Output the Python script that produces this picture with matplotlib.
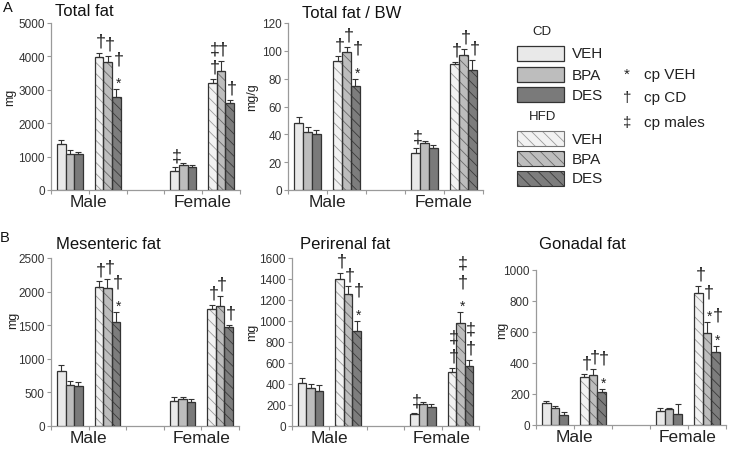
import matplotlib
matplotlib.use("Agg")
import matplotlib.pyplot as plt
from matplotlib.patches import Rectangle

plt.rcParams['font.family'] = ['Liberation Sans', 'DejaVu Sans']
plt.rcParams['hatch.linewidth'] = 0.6

W, H = 729, 452

# ---------------- data ----------------
# order: Male CD (VEH,BPA,DES), Male HFD (VEH,BPA,DES), Female CD (...), Female HFD (...)
groups = ["Male CD", "Male HFD", "Female CD", "Female HFD"]
treatments = ["VEH", "BPA", "DES"]
sex_labels = ["Male", "Female"]

total_fat_mean = [1370, 1090, 1070, 3970, 3820, 2775, 580, 755, 680, 3205, 3575, 2595]
total_fat_sem = [130, 110, 80, 130, 200, 245, 95, 40, 65, 115, 300, 105]
total_fat_sig = ["", "", "", "†", "†", "*†", "‡", "", "", "†‡", "†", "†"]

bw_mean = [48.5, 41.4, 40.2, 92.9, 99.3, 74.5, 26.3, 33.5, 30.2, 90.5, 97.0, 86.0]
bw_sem = [3.7, 3.6, 2.9, 3.1, 3.8, 5.3, 3.6, 1.5, 2.1, 1.7, 4.3, 7.4]
bw_sig = ["", "", "", "†", "†", "*†", "‡", "", "", "†", "†", "†"]

mes_mean = [820, 605, 600, 2067, 2050, 1555, 373, 405, 360, 1740, 1780, 1470]
mes_sem = [90, 65, 60, 85, 140, 140, 60, 25, 35, 60, 150, 35]
mes_sig = ["", "", "", "†", "†", "*†", "", "", "", "†", "†", "†"]

per_mean = [410, 360, 338, 1402, 1257, 908, 112, 214, 180, 510, 982, 574]
per_sem = [50, 38, 50, 55, 72, 95, 15, 19, 25, 47, 100, 55]
per_sig = ["", "", "", "†", "†", "*†", "‡", "", "", "†‡", "*†‡", "†‡"]

gon_mean = [140, 108, 65, 310, 325, 213, 90, 105, 69, 850, 596, 471]
gon_sem = [15, 15, 18, 17, 38, 21, 22, 7, 64, 45, 68, 40]
gon_sig = ["", "", "", "†", "†", "*†", "", "", "", "†", "*†", "*†"]

sig_legend_symbols = ["*", "†", "‡"]
sig_legend_labels = ["cp VEH", "cp CD", "cp males"]

# ---------------- styles ----------------
face_cd = ["#e9e9e9", "#bdbdbd", "#7a7a7a"]
face_hfd = ["#f2f2f2", "#bdbdbd", "#7d7d7d"]
hatch_col = ["#9a9a9a", "#6a6a6a", "#3a3a3a"]
edge = "#333333"
HATCH = "\\\\\\"

fig = plt.figure(figsize=(W / 100, H / 100), dpi=100)


def axes_px(x0, y0, x1, y1):
    return fig.add_axes([x0 / W, 1 - y1 / H, (x1 - x0) / W, (y1 - y0) / H])


def ftxt(x, y, s, **kw):
    fig.text(x / W, 1 - y / H, s, **kw)


group_centers = [0.5, 1.5, 3.5, 4.5]
bw_ = 0.227


def panel(rect, means, sems, sigs, ymax, ystep):
    ax = axes_px(*rect)
    for gi, gc in enumerate(group_centers):
        hfd = gi % 2 == 1
        for ti in range(3):
            i = gi * 3 + ti
            x = gc + (ti - 1) * bw_
            if hfd:
                ax.bar(x, means[i], width=bw_, color=face_hfd[ti], hatch=HATCH,
                       edgecolor=hatch_col[ti], linewidth=0, zorder=2)
                ax.bar(x, means[i], width=bw_, fill=False, edgecolor=edge,
                       linewidth=0.9, zorder=3)
            else:
                ax.bar(x, means[i], width=bw_, color=face_cd[ti], edgecolor=edge,
                       linewidth=0.9, zorder=3)
            ax.errorbar(x, means[i], yerr=[[0], [sems[i]]], fmt='none',
                        ecolor=edge, elinewidth=0.8, capsize=2.2, capthick=0.8, zorder=4)
            top = means[i] + sems[i]
            for k, s in enumerate(sigs[i]):
                if s == "*":
                    ax.annotate(s, xy=(x, top), xytext=(1.5, 4.5 + k * 13.5),
                                textcoords='offset points', ha='center', va='center',
                                fontsize=10, color="#222222",
                                annotation_clip=False, zorder=5)
                else:
                    ax.annotate(s, xy=(x, top), xytext=(1.5, 8.5 + k * 13.5),
                                textcoords='offset points', ha='center', va='center',
                                fontsize=13, color="#222222",
                                annotation_clip=False, zorder=5)
    ax.set_xlim(0, 5)
    ax.set_ylim(0, ymax)
    ax.set_yticks([v for v in range(0, int(ymax) + 1, ystep)])
    ax.set_xticks(range(6))
    ax.set_xticklabels(["", sex_labels[0], "", "", sex_labels[1], ""])
    for sp in ["top", "right"]:
        ax.spines[sp].set_visible(False)
    for sp in ["left", "bottom"]:
        ax.spines[sp].set_color("#9a9a9a")
        ax.spines[sp].set_linewidth(0.9)
    ax.tick_params(axis='y', length=3, width=0.8, color="#9a9a9a", labelsize=8.5,
                   labelcolor="#333333", pad=1.5)
    ax.tick_params(axis='x', length=3, width=0.8, color="#9a9a9a", labelsize=12.5,
                   labelcolor="#222222", pad=0)
    return ax


panel((51, 24, 240, 191), total_fat_mean, total_fat_sem, total_fat_sig, 5000, 1000)
panel((288, 24, 483, 191), bw_mean, bw_sem, bw_sig, 120, 20)
panel((51, 259, 239, 427), mes_mean, mes_sem, mes_sig, 2500, 500)
panel((292, 259, 479, 427), per_mean, per_sem, per_sig, 1600, 200)
panel((536, 271, 726, 426), gon_mean, gon_sem, gon_sig, 1000, 200)

# y labels
ftxt(10, 97, "mg", rotation=90, ha='center', va='center', fontsize=9, color="#222")
ftxt(252, 97, "mg/g", rotation=90, ha='center', va='center', fontsize=9, color="#222")
ftxt(13, 320, "mg", rotation=90, ha='center', va='center', fontsize=9, color="#222")
ftxt(252, 332, "mg", rotation=90, ha='center', va='center', fontsize=9, color="#222")
ftxt(502, 330, "mg", rotation=90, ha='center', va='center', fontsize=9, color="#222")

# titles
ftxt(55, 12, "Total fat", ha='left', va='center', fontsize=12, color="#111")
ftxt(302, 14, "Total fat / BW", ha='left', va='center', fontsize=12, color="#111")
ftxt(56, 245, "Mesenteric fat", ha='left', va='center', fontsize=12, color="#111")
ftxt(300, 245, "Perirenal fat", ha='left', va='center', fontsize=12, color="#111")
ftxt(539, 245, "Gonadal fat", ha='left', va='center', fontsize=12, color="#111")
ftxt(8, 8, "A", ha='center', va='center', fontsize=10.5, color="#111")
ftxt(5, 238, "B", ha='center', va='center', fontsize=10.5, color="#111")

# legend
lax = fig.add_axes([0, 0, 1, 1])
lax.set_xlim(0, W)
lax.set_ylim(H, 0)
lax.axis('off')
ftxt(542, 32, "CD", ha='center', va='center', fontsize=9.5, color="#222")
ftxt(543, 117, "HFD", ha='center', va='center', fontsize=9.5, color="#222")
cd_tops = [47, 68, 88]
hfd_tops = [132, 152, 172]
for ti in range(3):
    lax.add_patch(Rectangle((517, cd_tops[ti]), 47, 15, facecolor=face_cd[ti],
                            edgecolor=edge, linewidth=0.9))
    ftxt(572, cd_tops[ti] + 7.5, treatments[ti], ha='left', va='center', fontsize=11, color="#222")
    lax.add_patch(Rectangle((517, hfd_tops[ti]), 47, 15, facecolor=face_hfd[ti],
                            edgecolor=hatch_col[ti], hatch=HATCH, linewidth=0))
    lax.add_patch(Rectangle((517, hfd_tops[ti]), 47, 15, fill=False,
                            edgecolor="#777777" if ti == 0 else edge, linewidth=0.8))
    ftxt(572, hfd_tops[ti] + 7.5, treatments[ti], ha='left', va='center', fontsize=11, color="#222")

sym_y = [75, 98, 123]
for s, lab, y in zip(sig_legend_symbols, sig_legend_labels, sym_y):
    ftxt(627, y, s, ha='center', va='center', fontsize=11, color="#222")
    ftxt(644, y, lab, ha='left', va='center', fontsize=11, color="#222")

fig.savefig("out.png", dpi=100)
